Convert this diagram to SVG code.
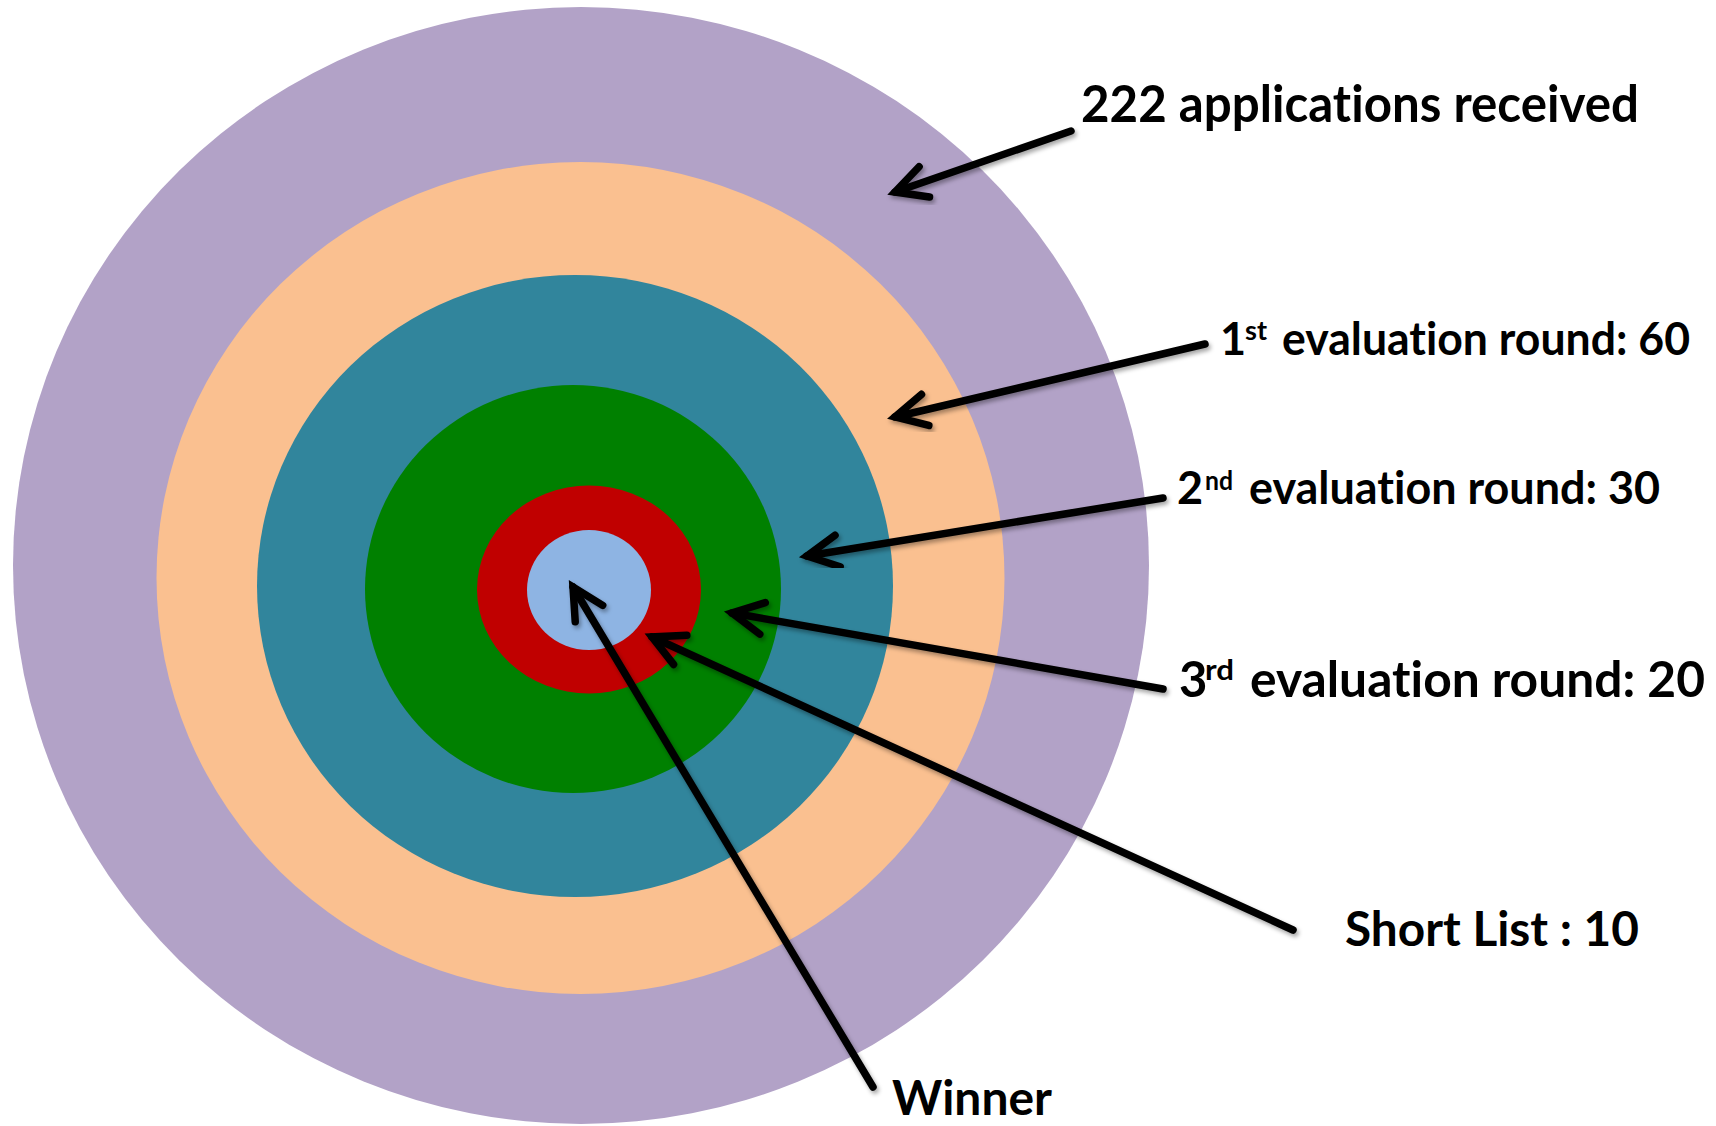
<svg xmlns="http://www.w3.org/2000/svg" width="1716" height="1126" viewBox="0 0 1716 1126">
  <style>
    .lbl { font-family: Lato, "Open Sans", "Liberation Sans", sans-serif; font-weight: 700; fill: #000; font-variant-ligatures: none; font-feature-settings: "liga" 0, "clig" 0; }
    .arrow { fill: none; stroke: #000; stroke-width: 7.5; stroke-linecap: round; filter: url(#shadow); }
  </style>
  <defs>
    <filter id="shadow" x="-20%" y="-20%" width="140%" height="140%">
      <feDropShadow dx="2" dy="3" stdDeviation="2" flood-color="#000" flood-opacity="0.35"/>
    </filter>
    <marker id="head" markerUnits="userSpaceOnUse" orient="auto" refX="0" refY="0" markerWidth="60" markerHeight="60" viewBox="-40 -30 60 60" overflow="visible">
      <path d="M -31 -16 L 0 0 L -31 16" fill="none" stroke="#000" stroke-width="7.5" stroke-linecap="round" stroke-linejoin="miter"/>
    </marker>
  </defs>
  <rect width="1716" height="1126" fill="#fff"/>

  <g id="rings">
    <g id="ring-applications"><ellipse cx="581" cy="565.5" rx="568" ry="558.5" fill="#B2A2C7"/></g>
    <g id="ring-round1"><ellipse cx="580.5" cy="578" rx="424" ry="416" fill="#FAC090"/></g>
    <g id="ring-round2"><ellipse cx="575" cy="586" rx="318" ry="311" fill="#31859C"/></g>
    <g id="ring-round3"><ellipse cx="573" cy="589" rx="208" ry="204" fill="#008000"/></g>
    <g id="ring-shortlist"><ellipse cx="589" cy="589.5" rx="112" ry="104" fill="#C00000"/></g>
    <g id="ring-winner"><ellipse cx="589" cy="590" rx="62" ry="60" fill="#8EB4E3"/></g>
  </g>

  <g id="connectors">
    <path class="arrow" marker-end="url(#head)" d="M 1071 131 L 895 192"/>
    <path class="arrow" marker-end="url(#head)" d="M 1205 344 L 895 417"/>
    <path class="arrow" marker-end="url(#head)" d="M 1163 498 L 807 556"/>
    <path class="arrow" marker-end="url(#head)" d="M 1163 689 L 732 613"/>
    <path class="arrow" marker-end="url(#head)" d="M 1293 930 L 652 637"/>
    <path class="arrow" marker-end="url(#head)" d="M 873 1087 L 573 587"/>
  </g>

  <g id="labels">
    <g id="label-applications">
      <text class="lbl" x="1081" y="122" font-size="51" textLength="558" lengthAdjust="spacingAndGlyphs">222 applications received</text>
    </g>
    <g id="label-round1">
      <text class="lbl" font-size="45"><tspan x="1220" y="355">1</tspan><tspan x="1245" y="340" font-size="27" textLength="22" lengthAdjust="spacingAndGlyphs">st</tspan><tspan x="1282" y="355" textLength="408" lengthAdjust="spacingAndGlyphs">evaluation round: 60</tspan></text>
    </g>
    <g id="label-round2">
      <text class="lbl" font-size="45"><tspan x="1177" y="504">2</tspan><tspan x="1205" y="490" font-size="27" textLength="28" lengthAdjust="spacingAndGlyphs">nd</tspan><tspan x="1249" y="504" textLength="411" lengthAdjust="spacingAndGlyphs">evaluation round: 30</tspan></text>
    </g>
    <g id="label-round3">
      <text class="lbl" font-size="49"><tspan x="1179" y="697">3</tspan><tspan x="1205" y="680" font-size="29" textLength="29" lengthAdjust="spacingAndGlyphs">rd</tspan><tspan x="1250" y="697" textLength="455" lengthAdjust="spacingAndGlyphs">evaluation round: 20</tspan></text>
    </g>
    <g id="label-shortlist">
      <text class="lbl" x="1345" y="946" font-size="47" textLength="294" lengthAdjust="spacingAndGlyphs">Short List : 10</text>
    </g>
    <g id="label-winner">
      <text class="lbl" x="892" y="1115" font-size="47" textLength="160" lengthAdjust="spacingAndGlyphs">Winner</text>
    </g>
  </g>
</svg>
